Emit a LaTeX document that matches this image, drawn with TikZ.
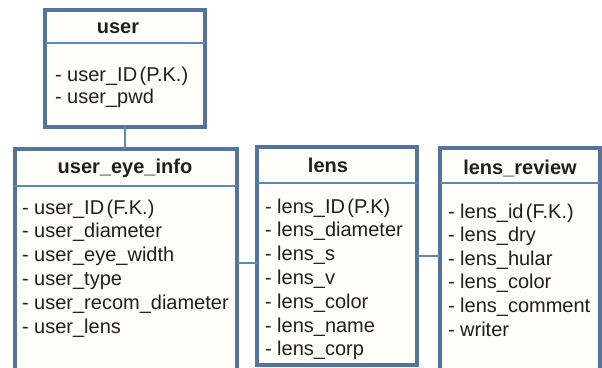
\documentclass[tikz,border=0pt]{standalone}
\usepackage{fontspec}
\setmainfont{Liberation Sans}
\begin{document}
\begin{tikzpicture}[x=1pt,y=-1pt,
  every node/.style={inner sep=0pt,outer sep=0pt},
  table/.style={draw=frameblue,line width=3.2pt,fill=paper,anchor=north west,rectangle},
  divider/.style={draw=ruleblue,line width=2.6pt},
  link/.style={draw=linkblue,line width=2.6pt},
  title/.style={font=\fontsize{20}{24}\selectfont\bfseries,anchor=base,text=black!88},
  field/.style={font=\fontsize{20}{24}\selectfont,anchor=base west,text=black!88}]
\definecolor{frameblue}{RGB}{84,116,158}
\definecolor{ruleblue}{RGB}{90,135,190}
\definecolor{linkblue}{RGB}{95,135,185}
\definecolor{paper}{RGB}{255,254,248}
\useasboundingbox (0,0) rectangle (602,367);
\clip (0,0) rectangle (602,367);

% table frames
\node[table,minimum width=160pt,minimum height=117pt] (user) at (45,10) {};
\node[table,minimum width=222pt,minimum height=240pt] (uei) at (15,149) {};
\node[table,minimum width=160pt,minimum height=218pt] (lens) at (257,147) {};
\node[table,minimum width=160pt,minimum height=240pt] (rev) at (440,148) {};

% header separators
\draw[divider] (user.west |- 0,43) -- (user.east |- 0,43);
\draw[divider] (uei.west |- 0,186) -- (uei.east |- 0,186);
\draw[divider] (lens.west |- 0,183) -- (lens.east |- 0,183);
\draw[divider] (rev.west |- 0,183) -- (rev.east |- 0,183);

% relationships
\draw[link] (user.south) -- (uei.north -| user.south);
\coordinate (a1) at (uei.east |- 0,263);
\coordinate (a2) at (lens.west |- 0,263);
\draw[link] (a1) -- (a2);
\coordinate (b1) at (lens.east |- 0,256);
\coordinate (b2) at (rev.west |- 0,256);
\draw[link] (b1) -- (b2);

% titles
\node[title] (tuser) at (118,33) {user};
\node[title] (tuei) at (125,173) {user\_eye\_info};
\node[title] (tlens) at (328,172) {lens};
\node[title] (trev) at (520,174) {lens\_review};

% fields
\node[field] (u1) at (55,81) {- user\_ID\hspace{0.12em}(P.K.)};
\node[field] (u2) at (55,103) {- user\_pwd};

\foreach \t [count=\i] in {{user\_ID\hspace{0.12em}(F.K.)},user\_diameter,user\_eye\_width,user\_type,user\_recom\_diameter,user\_lens}
  \node[field] (e\i) at (22,{214+23.8*(\i-1)}) {- \t};

\foreach \t [count=\i] in {{lens\_ID\hspace{0.12em}(P.K)},lens\_diameter,lens\_s,lens\_v,lens\_color,lens\_name,lens\_corp}
  \node[field] (l\i) at (265,{213+23.8*(\i-1)}) {- \t};

\foreach \t [count=\i] in {{lens\_id\hspace{0.12em}(F.K.)},lens\_dry,lens\_hular,lens\_color,lens\_comment,writer}
  \node[field] (r\i) at (448,{218+23.6*(\i-1)}) {- \t};
\end{tikzpicture}
\end{document}
